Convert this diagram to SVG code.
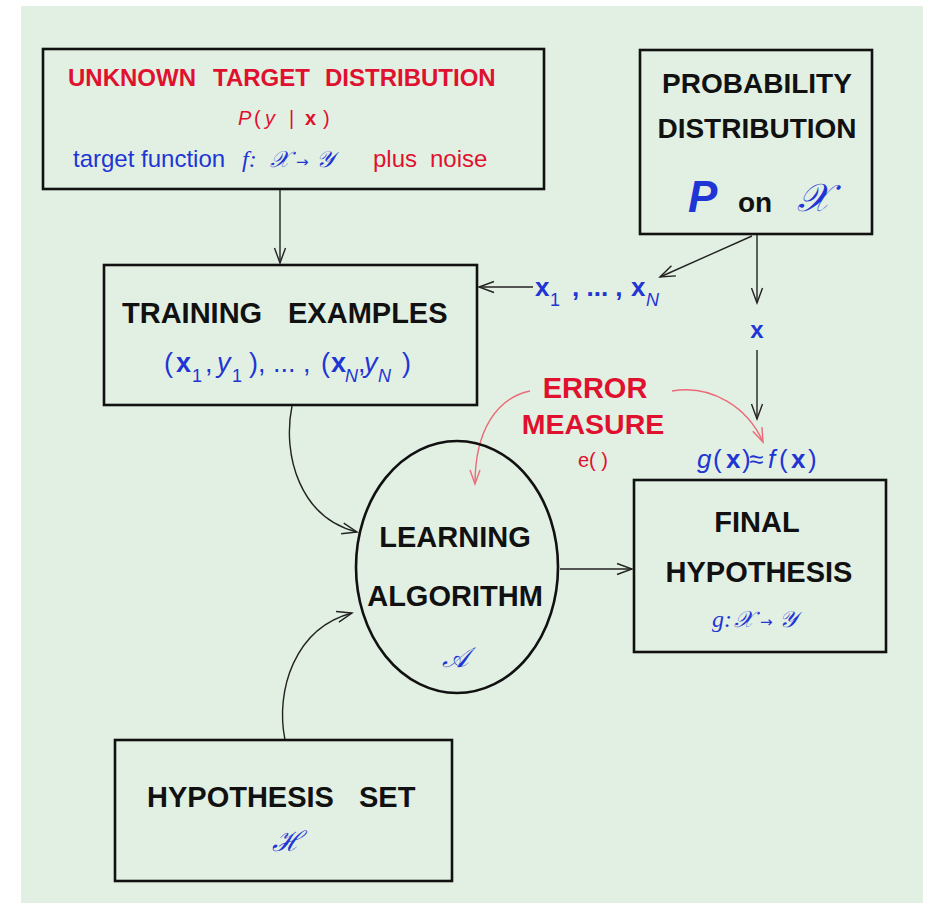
<svg xmlns="http://www.w3.org/2000/svg" width="928" height="906" viewBox="0 0 928 906">
<style>
.box{fill:#e2f0e3;stroke:#111;stroke-width:2.6}
.t{font-family:"Liberation Sans",Arial,sans-serif}
.b{font-weight:bold}
.i{font-style:italic}
.k{fill:#111}
.bl{fill:#1f35d4}
.rd{fill:#e0102f}
.m{font-family:"Liberation Serif","DejaVu Serif",serif;font-style:italic}
.ar{font-family:"DejaVu Sans",sans-serif;font-style:normal}
.c{stroke:#222;stroke-width:1.4;fill:none}
.cr{stroke:#ec6a78;stroke-width:1.4;fill:none}
</style>
<defs>
<marker id="ah" viewBox="-17 -8 19 16" refX="0" refY="0" markerWidth="19" markerHeight="16" markerUnits="userSpaceOnUse" orient="auto"><path d="M-15,-5.5 L0,0 L-15,5.5" fill="none" stroke="#222" stroke-width="1.4"/></marker>
<marker id="ahr" viewBox="-17 -8 19 16" refX="0" refY="0" markerWidth="19" markerHeight="16" markerUnits="userSpaceOnUse" orient="auto"><path d="M-14,-5 L0,0 L-14,5" fill="none" stroke="#ec6a78" stroke-width="1.4"/></marker>
</defs>
<rect x="0" y="0" width="928" height="906" fill="#ffffff"/>
<rect x="21" y="6" width="902" height="897" fill="#e2f0e3"/>

<g id="target">
<rect class="box" x="43" y="49" width="501" height="140"/>
<text class="t b rd" y="86" font-size="24"><tspan x="68">UNKNOWN</tspan><tspan x="213">TARGET</tspan><tspan x="325">DISTRIBUTION</tspan></text>
<text class="t rd" y="125" font-size="20"><tspan x="238" class="i">P</tspan><tspan x="254">(</tspan><tspan x="265" class="i">y</tspan><tspan x="289">|</tspan><tspan x="305" class="b">x</tspan><tspan x="323">)</tspan></text>
<text class="t bl" x="73" y="167" font-size="24">target function</text>
<text class="bl" y="167" font-size="24"><tspan x="242" class="m">f:</tspan><tspan x="270" class="m" font-size="23">𝒳</tspan><tspan x="296" font-size="15" class="ar">→</tspan><tspan x="316" class="m" font-size="23">𝒴</tspan></text>
<text class="t rd" y="167" font-size="24"><tspan x="373">plus</tspan><tspan x="430">noise</tspan></text>
</g>

<g id="probability">
<rect class="box" x="640" y="50" width="232" height="184"/>
<text class="t b k" x="757" y="93" font-size="28" text-anchor="middle">PROBABILITY</text>
<text class="t b k" x="757" y="138" font-size="28" text-anchor="middle">DISTRIBUTION</text>
<text class="t b i bl" x="688" y="212" font-size="44">P</text>
<text class="t b k" x="738" y="212" font-size="28">on</text>
<text class="m bl" x="797" y="211" font-size="39">𝒳</text>
</g>

<g id="connectors">
<path class="c" d="M280,190 L280,263" marker-end="url(#ah)"/>
<path class="c" d="M752,236 L660,277" marker-end="url(#ah)"/>
<path class="c" d="M533,287 L479,287" marker-end="url(#ah)"/>
<path class="c" d="M757,235 L757,303" marker-end="url(#ah)"/>
<path class="c" d="M757,350 L757,419" marker-end="url(#ah)"/>
<path class="c" d="M292,406 C282,455 300,518 357,532" marker-end="url(#ah)"/>
<path class="c" d="M285,740 C275,690 295,628 352,613" marker-end="url(#ah)"/>
<path class="c" d="M560,569 L632,569" marker-end="url(#ah)"/>
<path class="cr" d="M530,391 C497,398 475,430 475,484" marker-end="url(#ahr)"/>
<path class="cr" d="M672,391 C712,384 748,408 763,442" marker-end="url(#ahr)"/>
</g>

<g id="xlabels">
<text class="t bl" y="296" font-size="26"><tspan x="535" class="b">x</tspan><tspan x="550" y="306" font-size="18">1</tspan><tspan x="572" y="296" class="b">, ... ,</tspan><tspan x="631" class="b">x</tspan><tspan x="646" y="306" font-size="18" class="i">N</tspan></text>
<text class="t b bl" x="757" y="338" font-size="24" text-anchor="middle">x</text>
</g>

<g id="training">
<rect class="box" x="104" y="265" width="373" height="140"/>
<text class="t b k" y="323" font-size="29"><tspan x="122">TRAINING</tspan><tspan x="288">EXAMPLES</tspan></text>
<text class="t bl" y="372" font-size="27"><tspan x="164">(</tspan><tspan x="176" class="b">x</tspan><tspan x="192" y="382" font-size="18">1</tspan><tspan x="205" y="372">,</tspan><tspan x="217" class="i">y</tspan><tspan x="232" y="382" font-size="18">1</tspan><tspan x="249" y="372">), ... ,</tspan><tspan x="321">(</tspan><tspan x="331" class="b">x</tspan><tspan x="345" y="382" font-size="18" class="i">N</tspan><tspan x="358" y="372">,</tspan><tspan x="364" class="i">y</tspan><tspan x="378" y="382" font-size="18" class="i">N</tspan><tspan x="402" y="372">)</tspan></text>
</g>

<g id="error">
<text class="t b rd" x="595" y="398" font-size="29" text-anchor="middle">ERROR</text>
<text class="t b rd" x="593" y="434" font-size="28.5" text-anchor="middle">MEASURE</text>
<text class="t rd" x="593" y="467" font-size="20" text-anchor="middle">e( )</text>
</g>

<g id="approx">
<text class="t bl" y="468" font-size="26"><tspan x="697" class="i">g</tspan><tspan x="713">(</tspan><tspan x="726" class="b">x</tspan><tspan x="742">)</tspan><tspan x="749">≈</tspan><tspan x="768" class="i">f</tspan><tspan x="779">(</tspan><tspan x="791" class="b">x</tspan><tspan x="808">)</tspan></text>
</g>

<g id="learning">
<ellipse cx="457" cy="567" rx="101" ry="126" fill="none" stroke="#111" stroke-width="2.6"/>
<text class="t b k" x="455" y="547" font-size="29" text-anchor="middle">LEARNING</text>
<text class="t b k" x="455" y="606" font-size="29" text-anchor="middle">ALGORITHM</text>
<text class="m bl" x="455" y="667" font-size="28" text-anchor="middle">𝒜</text>
</g>

<g id="final">
<rect class="box" x="634" y="480" width="252" height="172"/>
<text class="t b k" x="757" y="532" font-size="29" text-anchor="middle">FINAL</text>
<text class="t b k" x="759" y="582" font-size="29" text-anchor="middle">HYPOTHESIS</text>
<text class="bl" y="627" font-size="24"><tspan x="712" class="m">g:</tspan><tspan x="734" class="m" font-size="23">𝒳</tspan><tspan x="760" font-size="15" class="ar">→</tspan><tspan x="779" class="m" font-size="23">𝒴</tspan></text>
</g>

<g id="hypothesis">
<rect class="box" x="115" y="740" width="337" height="141"/>
<text class="t b k" y="807" font-size="29"><tspan x="147">HYPOTHESIS</tspan><tspan x="359">SET</tspan></text>
<text class="m bl" x="287" y="851" font-size="28" text-anchor="middle">ℋ</text>
</g>
</svg>
